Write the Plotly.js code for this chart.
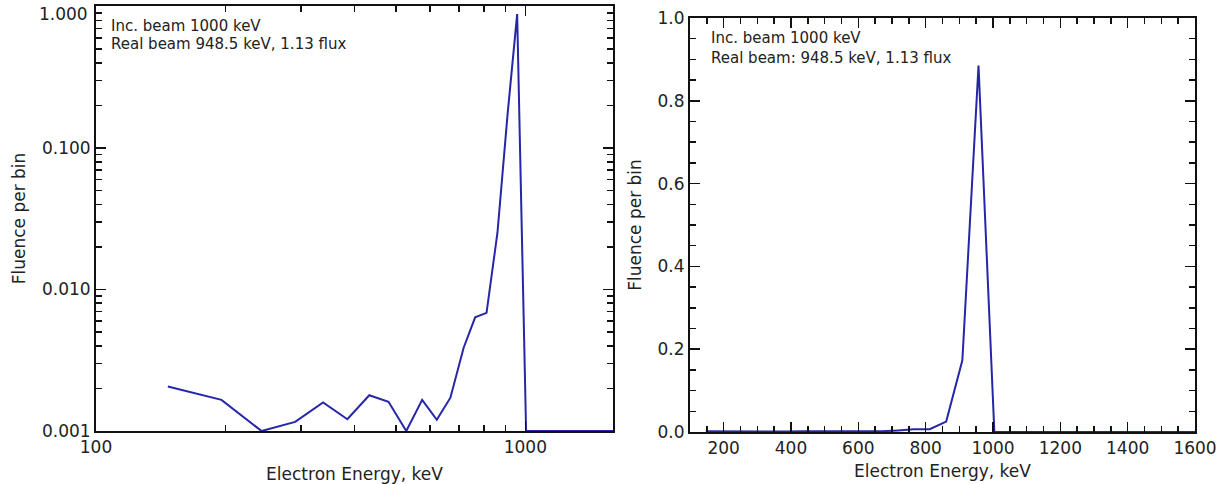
<!DOCTYPE html>
<html>
<head>
<meta charset="utf-8">
<script src="https://cdn.plot.ly/plotly-3.0.1.min.js"></script>
<style>html,body{margin:0;padding:0;background:#fff;}#chart{width:1221px;height:484px;}</style>
</head>
<body>
<div id="chart"></div>
<script>
// Electron energy bins (keV) and fluence per bin
const energy  = [147, 196, 243, 291, 338, 385, 433, 480, 528, 575, 622, 669, 718, 764, 812, 861, 909, 957, 1004, 1650];
const fluence = [0.00206, 0.00166, 0.00100, 0.00116, 0.00159, 0.00121, 0.00179, 0.00161, 0.00100, 0.00166,
                 0.00120, 0.00172, 0.00386, 0.00636, 0.00684, 0.0252, 0.173, 0.885, 0, 0];

// log-axis tick labels; the top one (1.000) sits just under the frame, drawn as an annotation
const logTickVals = [0.001, 0.01, 0.1, 1];
const logTickText = ['0.001', '0.010', '0.100', ''];
const topLogLabel = '1.000';
const xLogTickVals = [100, 1000];
const xLogTickText = ['100', '1000'];
const xLogMinor = [200, 300, 400, 500, 600, 700, 800, 900];
const yLogMinor = [0.002,0.003,0.004,0.005,0.006,0.007,0.008,0.009,
                   0.02,0.03,0.04,0.05,0.06,0.07,0.08,0.09,
                   0.2,0.3,0.4,0.5,0.6,0.7,0.8,0.9];

const annoLeft  = ['Inc. beam 1000 keV', 'Real beam 948.5 keV, 1.13 flux'];
const annoRight = ['Inc. beam 1000 keV', 'Real beam: 948.5 keV, 1.13 flux'];
const xTitle = 'Electron Energy, keV';
const yTitle = 'Fluence per bin';

const W = 1221, H = 484;
const LOGMIN = 0.001;
const px = v => v / W;
const py = v => 1 - v / H;

const lineColor = '#2626a8';
const axisColor = '#111111';
const FONT = 'DejaVu Sans, sans-serif';

const traces = [
  {
    x: energy,
    y: fluence.map(v => Math.max(v, LOGMIN)),
    xaxis: 'x', yaxis: 'y',
    mode: 'lines', line: {color: lineColor, width: 2}, hoverinfo: 'x+y'
  },
  {
    x: energy,
    y: fluence,
    xaxis: 'x2', yaxis: 'y2',
    mode: 'lines', line: {color: lineColor, width: 2}, hoverinfo: 'x+y'
  }
];

const common = {
  showline: true, linecolor: axisColor, linewidth: 2, mirror: 'allticks',
  ticks: 'inside', ticklen: 10, tickwidth: 1.5, tickcolor: axisColor,
  showgrid: false, zeroline: false,
  tickfont: {family: FONT, size: 17, color: '#222'}
};
const minorCommon = {ticks: 'inside', ticklen: 6, tickwidth: 1.5, tickcolor: axisColor, showgrid: false};
const annoFont = {family: FONT, size: 15, color: '#222'};

const layout = {
  width: W, height: H,
  margin: {l: 0, r: 0, t: 0, b: 0},
  paper_bgcolor: '#fff', plot_bgcolor: '#fff',
  showlegend: false,
  font: {family: FONT, color: '#222'},
  xaxis: Object.assign({}, common, {
    domain: [px(96), px(613)], anchor: 'y',
    type: 'log', range: [2, Math.log10(1600)],
    tickmode: 'array', tickvals: xLogTickVals, ticktext: xLogTickText,
    minor: Object.assign({}, minorCommon, {tickmode: 'array', tickvals: xLogMinor}),
    title: {text: xTitle, font: {family: FONT, size: 17, color: '#222'}, standoff: 12}
  }),
  yaxis: Object.assign({}, common, {
    domain: [py(431), py(6)], anchor: 'x',
    type: 'log', range: [-3, 0.004],
    tickmode: 'array', tickvals: logTickVals, ticktext: logTickText,
    minor: Object.assign({}, minorCommon, {tickmode: 'array', tickvals: yLogMinor}),
    title: {text: yTitle, font: {family: FONT, size: 17, color: '#222'}, standoff: 12}
  }),
  xaxis2: Object.assign({}, common, {
    domain: [px(690), px(1195)], anchor: 'y2',
    type: 'linear', range: [100, 1600],
    tick0: 0, dtick: 200,
    minor: Object.assign({}, minorCommon, {dtick: 50}),
    title: {text: xTitle, font: {family: FONT, size: 17, color: '#222'}, standoff: 8}
  }),
  yaxis2: Object.assign({}, common, {
    domain: [py(432), py(18)], anchor: 'x2',
    type: 'linear', range: [0, 1.0],
    tick0: 0, dtick: 0.2, tickformat: '.1f',
    minor: Object.assign({}, minorCommon, {dtick: 0.05}),
    title: {text: yTitle, font: {family: FONT, size: 17, color: '#222'}, standoff: 12}
  }),
  annotations: [
    {text: topLogLabel, x: px(90), y: py(14), xref: 'paper', yref: 'paper', xanchor: 'right', yanchor: 'middle', showarrow: false, font: {family: FONT, size: 17, color: '#222'}},
    {text: annoLeft[0],  x: px(109), y: py(26), xref: 'paper', yref: 'paper', xanchor: 'left', yanchor: 'middle', showarrow: false, font: annoFont},
    {text: annoLeft[1],  x: px(109), y: py(44), xref: 'paper', yref: 'paper', xanchor: 'left', yanchor: 'middle', showarrow: false, font: annoFont},
    {text: annoRight[0], x: px(709), y: py(38), xref: 'paper', yref: 'paper', xanchor: 'left', yanchor: 'middle', showarrow: false, font: annoFont},
    {text: annoRight[1], x: px(709), y: py(58), xref: 'paper', yref: 'paper', xanchor: 'left', yanchor: 'middle', showarrow: false, font: annoFont}
  ]
};

Plotly.newPlot('chart', traces, layout, {displayModeBar: false, staticPlot: true});
</script>
</body>
</html>
